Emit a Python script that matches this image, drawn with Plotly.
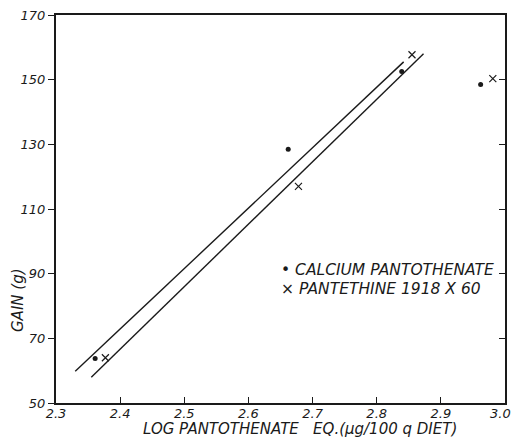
import plotly.graph_objects as go

# Weight gain versus log pantothenate equivalent
ca_x = [2.361, 2.662, 2.839, 2.962]
ca_gain = [63.8, 128.5, 152.5, 148.5]
pt_x = [2.377, 2.678, 2.855, 2.981]
pt_gain = [64.0, 117.0, 157.7, 150.3]

# Fitted response lines (endpoints)
ca_line_x = [2.330, 2.842]
ca_line_y = [59.8, 155.5]
pt_line_x = [2.355, 2.873]
pt_line_y = [58.0, 158.0]

x_ticks = [2.3, 2.4, 2.5, 2.6, 2.7, 2.8, 2.9, 3.0]
x_tick_text = ["2.3", "2.4", "2.5", "2.6", "2.7", "2.8", "2.9", "3.0"]
y_ticks = [50, 70, 90, 110, 130, 150, 170]

ink = "#1a1a1a"
font_family = "DejaVu Sans"

fig = go.Figure()
fig.add_trace(go.Scatter(x=ca_line_x, y=ca_line_y, mode="lines",
                         line=dict(color=ink, width=1.4), showlegend=False))
fig.add_trace(go.Scatter(x=pt_line_x, y=pt_line_y, mode="lines",
                         line=dict(color=ink, width=1.4), showlegend=False))
fig.add_trace(go.Scatter(x=ca_x, y=ca_gain, mode="markers",
                         marker=dict(symbol="circle", size=5, color=ink),
                         name="CALCIUM PANTOTHENATE", showlegend=False))
fig.add_trace(go.Scatter(x=pt_x, y=pt_gain, mode="markers",
                         marker=dict(symbol="x-thin-open", size=7, color=ink,
                                     line=dict(color=ink, width=1.2)),
                         name="PANTETHINE 1918 X 60", showlegend=False))
# invisible trace to carry the right-hand axis ticks
fig.add_trace(go.Scatter(x=[2.3], y=[50], yaxis="y2", mode="markers",
                         marker=dict(opacity=0), showlegend=False, hoverinfo="skip"))

tick_font = dict(family=font_family, size=13, color=ink, style="italic")
label_font = dict(family=font_family, size=15, color=ink, style="italic")

plot_w = 513 - 56 - 8
plot_h = 438 - 15 - 35

# the last tick label sits at the page edge, so it is right-aligned separately
axis_labels = x_tick_text[:-1] + [""]

fig.update_layout(
    width=513, height=438,
    margin=dict(l=56, r=8, t=15, b=35),
    paper_bgcolor="white", plot_bgcolor="white",
    xaxis=dict(range=[2.3, 3.0], tickvals=x_ticks, ticktext=axis_labels,
               ticks="inside", ticklen=6, tickcolor=ink, tickwidth=1,
               showline=True, linecolor=ink, linewidth=2, mirror=True,
               showgrid=False, zeroline=False, tickfont=tick_font,
               ticklabelstandoff=-3,
               ticklabeloverflow="allow", automargin=False),
    yaxis=dict(range=[50, 170], tickvals=y_ticks,
               ticks="outside", ticklen=6, tickcolor=ink, tickwidth=1,
               showline=True, linecolor=ink, linewidth=2, mirror=True,
               showgrid=False, zeroline=False, tickfont=tick_font,
               ticklabeloverflow="allow", automargin=False),
    yaxis2=dict(range=[50, 170], tickvals=y_ticks, overlaying="y", side="right",
                ticks="inside", ticklen=6, tickcolor=ink, tickwidth=1,
                showticklabels=False, showgrid=False, zeroline=False,
                showline=False, automargin=False),
    annotations=[
        dict(x=x_ticks[-1], y=0, xref="x", yref="paper", xanchor="right",
             yanchor="middle", xshift=7, yshift=-10, showarrow=False,
             text=x_tick_text[-1], font=tick_font, borderpad=0),
        dict(x=2.648, y=91, xref="x", yref="y", xanchor="left", yanchor="middle",
             text="• CALCIUM PANTOTHENATE", showarrow=False,
             font=dict(label_font, size=15.5)),
        dict(x=2.648, y=85.3, xref="x", yref="y", xanchor="left", yanchor="middle",
             text="× PANTETHINE 1918 X 60", showarrow=False,
             font=dict(label_font, size=15.5)),
        # axis titles
        dict(x=(300 - 56) / plot_w, y=-26 / plot_h, xref="paper", yref="paper",
             xanchor="center", yanchor="middle", showarrow=False,
             text="LOG PANTOTHENATE   EQ.(μg/100 q DIET)", font=label_font),
        dict(x=-38 / plot_w, y=(403 - 300) / plot_h, xref="paper", yref="paper",
             xanchor="center", yanchor="middle", showarrow=False, textangle=-90,
             text="GAIN (g)", font=label_font),
    ],
)

fig.write_html("out.html")
